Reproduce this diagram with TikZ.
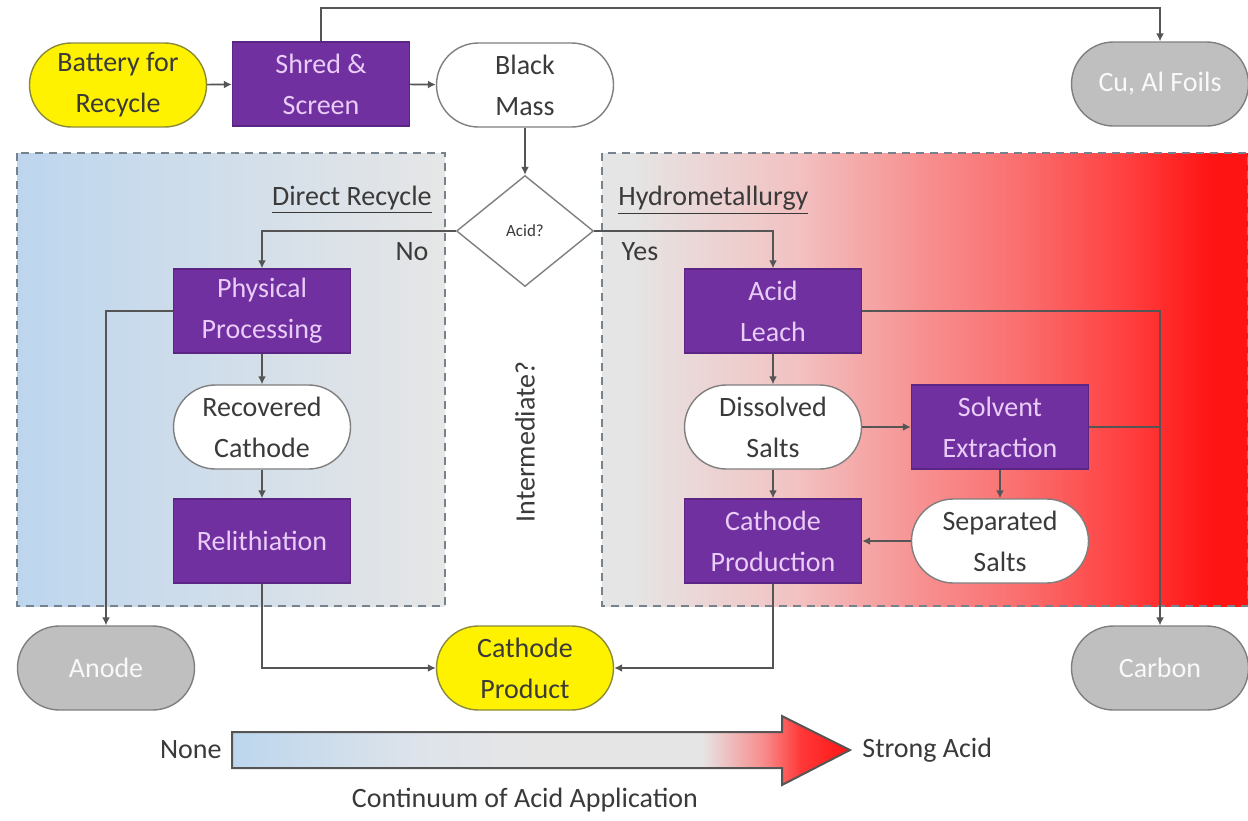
\documentclass[tikz,border=0pt]{standalone}
\usepackage{fontspec}
\setmainfont{Carlito}
\usetikzlibrary{shapes.geometric,arrows.meta}
\definecolor{purp}{HTML}{7030A0}
\definecolor{purpline}{HTML}{5B2485}
\definecolor{purptext}{HTML}{E9CCF7}
\definecolor{lnk}{HTML}{555555}
\definecolor{txt}{HTML}{3A3A3A}
\definecolor{grayfill}{HTML}{BFBFBF}
\definecolor{grayline}{HTML}{7F7F7F}
\definecolor{yelline}{HTML}{8A8A3A}
\definecolor{dashc}{HTML}{76828E}
\definecolor{dblue}{HTML}{BDD6EE}
\definecolor{dgray}{HTML}{E6E6E6}
\pgfdeclarehorizontalshading{hydro}{100bp}{rgb(0bp)=(0.90,0.90,0.90); rgb(27bp)=(0.90,0.90,0.90); rgb(40bp)=(0.95,0.76,0.76); rgb(50bp)=(0.97,0.56,0.56); rgb(57bp)=(0.98,0.44,0.44); rgb(66bp)=(1,0.24,0.24); rgb(72bp)=(1,0.08,0.08); rgb(100bp)=(1,0.05,0.05)}
\pgfdeclarehorizontalshading{acidbar}{100bp}{rgb(0bp)=(0.74,0.84,0.93); rgb(25bp)=(0.74,0.84,0.93); rgb(40bp)=(0.87,0.89,0.92); rgb(50bp)=(0.90,0.90,0.90); rgb(63bp)=(0.90,0.90,0.90); rgb(68bp)=(0.97,0.55,0.55); rgb(71bp)=(1,0.22,0.22); rgb(75bp)=(1,0.08,0.08); rgb(100bp)=(1,0.08,0.08)}
\begin{document}
\begin{tikzpicture}[x=0.5pt,y=-0.5pt,
  font=\fontsize{14pt}{20.5pt}\selectfont,
  base/.style={align=center,minimum width=88.5pt,minimum height=42pt,inner sep=2pt,line width=0.7pt},
  pur/.style={base,rectangle,fill=purp,draw=purpline,text=purptext},
  wht/.style={base,rectangle,rounded corners=21pt,fill=white,draw=grayline,text=txt},
  yel/.style={base,rectangle,rounded corners=21pt,fill=yellow,draw=yelline,text=txt},
  gry/.style={base,rectangle,rounded corners=21pt,fill=grayfill,draw=grayline,text=white!95!gray},
  conn/.style={draw=lnk,line width=0.8pt},
  arr/.style={conn,-{Latex[length=4pt,width=4pt]}},
  lab/.style={text=txt,inner sep=0pt},
  group/.style={draw=dashc,dashed,line width=0.9pt,dash pattern=on 4pt off 3pt}
  ]
\fill[white] (0,0) rectangle (1248,820);
\useasboundingbox (0,0) rectangle (1248,820);
% group boxes
\path[group,left color=dblue,right color=dgray] (17,153) rectangle (445,606);
\path[group,shading=hydro] (602,153) rectangle (1248,606);
\node[lab,anchor=east] (drlab) at (432,200) {\underline{Direct Recycle}};
\node[lab,anchor=west] (hylab) at (618,200) {\underline{Hydrometallurgy}};
\node[lab] (no) at (412,252) {No};
\node[lab] (yes) at (640,252) {Yes};
% nodes
\node[yel] (bat) at (118,85) {Battery for\\Recycle};
\node[pur] (shred) at (321,84) {Shred \&\\Screen};
\node[wht] (black) at (525,85) {Black\\Mass};
\node[gry] (cu) at (1160,84) {Cu, Al Foils};
\node[diamond,draw=grayline,fill=white,line width=0.7pt,minimum width=68.5pt,minimum height=55.5pt,aspect=1.23,inner sep=0pt,text=txt,font=\fontsize{8.5pt}{9pt}\selectfont] (dia) at (525,231) {Acid?};
\node[pur] (phys) at (262,311) {Physical\\Processing};
\node[wht] (rec) at (262,427) {Recovered\\Cathode};
\node[pur] (reli) at (262,541) {Relithiation};
\node[gry] (anode) at (106,668) {Anode};
\node[yel] (prod) at (525,668) {Cathode\\Product};
\node[pur] (acid) at (773,311) {Acid\\Leach};
\node[wht] (diss) at (773,427) {Dissolved\\Salts};
\node[pur] (solv) at (1000,427) {Solvent\\Extraction};
\node[wht] (sep) at (1000,541) {Separated\\Salts};
\node[pur] (cprod) at (773,541) {Cathode\\Production};
\node[gry] (carbon) at (1160,668) {Carbon};
\node[lab,rotate=90] (inter) at (525,442) {Intermediate?};
% connectors
\coordinate (top) at (321,8);
\draw[arr] (bat) -- (shred);
\draw[arr] (shred) -- (black);
\draw[arr] (shred.north) -- (shred.north |- top) -| (cu.north);
\draw[arr] (black) -- (dia);
\draw[arr] (dia.west) -| (phys.north);
\draw[arr] (dia.east) -| (acid.north);
\draw[arr] (phys) -- (rec);
\draw[arr] (rec) -- (reli);
\draw[arr] (phys.west) -| (anode.north);
\draw[arr] (reli.south) |- (prod.west);
\draw[arr] (acid) -- (diss);
\draw[arr] (diss) -- (solv);
\draw[arr] (diss) -- (cprod);
\draw[arr] (solv) -- (sep);
\draw[arr] (sep) -- (cprod);
\draw[arr] (acid.east) -| (carbon.north);
\draw[conn] (solv.east) -- (solv.east -| carbon.north);
\draw[arr] (cprod.south) |- (prod.east);
% continuum arrow
\path[draw=lnk,line width=1pt,shading=acidbar] (232,732) -- (782,732) -- (782,716) -- (850,750) -- (782,785) -- (782,768) -- (232,768) -- cycle;
\node[lab,anchor=east] (none) at (222,750) {None};
\node[lab,anchor=west] (strong) at (862,750) {Strong Acid};
\node[lab] (cont) at (525,800) {Continuum of Acid Application};
\end{tikzpicture}
\end{document}
